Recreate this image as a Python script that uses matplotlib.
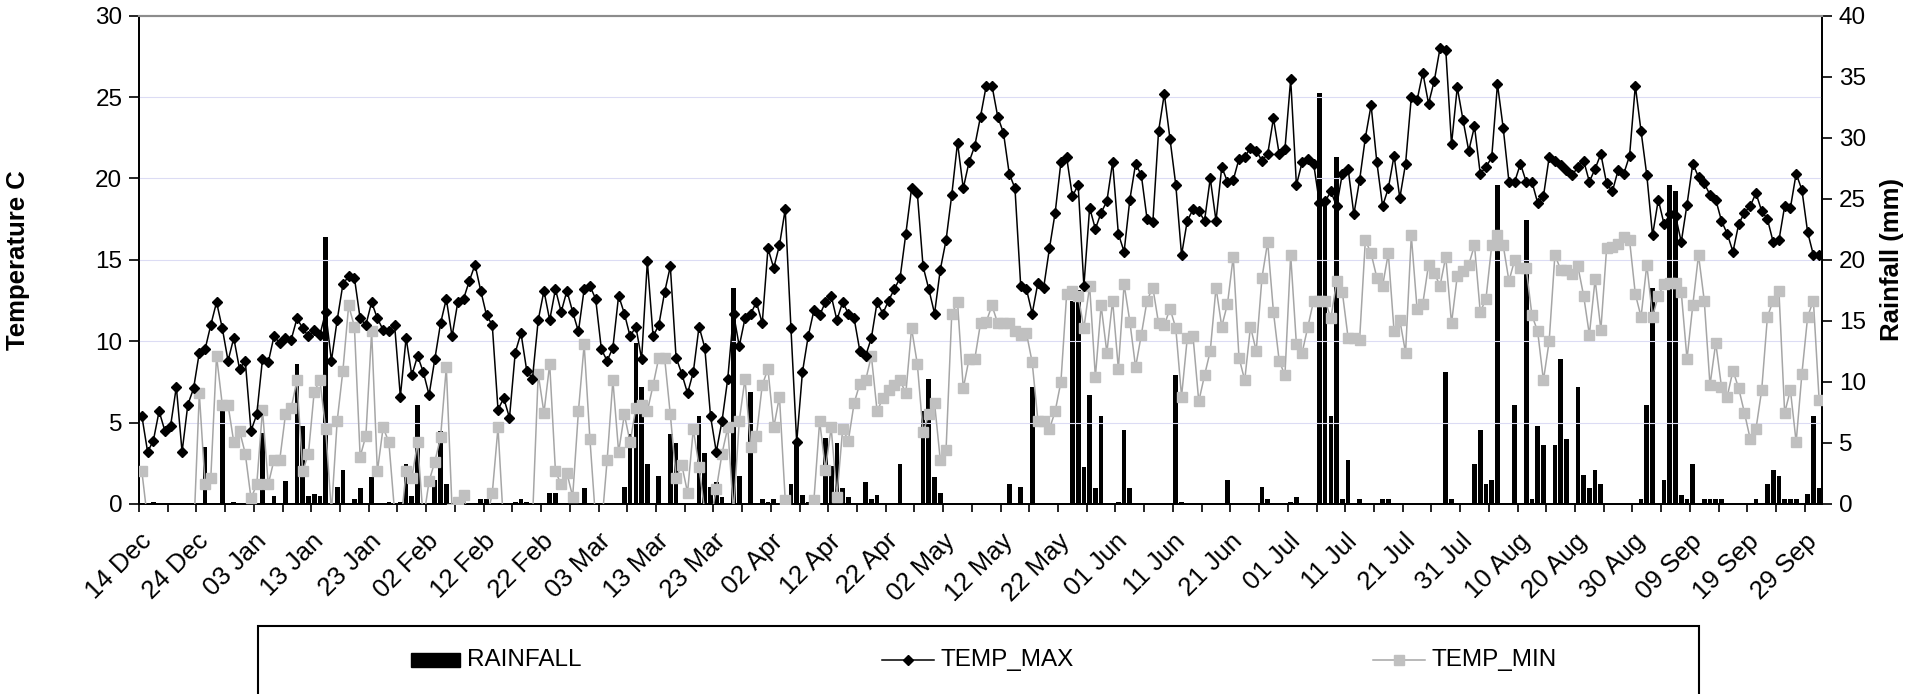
import numpy as np
import matplotlib
matplotlib.use("Agg")
import matplotlib.pyplot as plt
import matplotlib.transforms as mtransforms
import pandas as pd
from matplotlib.patches import Rectangle
from matplotlib.lines import Line2D

plt.rcParams['font.family'] = ['Liberation Sans', 'DejaVu Sans']

start_date = "2003-12-14"

temp_max = [
    5.4, 3.2, 3.9, 5.7, 4.5, 4.8, 7.2, 3.2, 6.1, 7.1,
    9.3, 9.5, 11.0, 12.4, 10.8, 8.8, 10.2, 8.3, 8.8, 4.5,
    5.5, 8.9, 8.7, 10.3, 9.9, 10.2, 10.1, 11.4, 10.8, 10.3,
    10.7, 10.4, 11.8, 8.8, 11.3, 13.5, 14.0, 13.9, 11.4, 11.0,
    12.4, 11.4, 10.7, 10.6, 11.0, 6.6, 10.2, 7.9, 9.1, 8.1,
    6.7, 8.9, 11.1, 12.6, 10.3, 12.4, 12.6, 13.7, 14.7, 13.1,
    11.6, 11.0, 5.8, 6.5, 5.3, 9.3, 10.5, 8.2, 7.7, 11.3,
    13.1, 11.3, 13.2, 11.8, 13.1, 11.8, 10.6, 13.2, 13.4, 12.6,
    9.5, 8.8, 9.6, 12.8, 11.7, 10.3, 10.9, 8.9, 14.9, 10.3,
    11.0, 13.0, 14.6, 9.0, 8.0, 6.8, 8.1, 10.9, 9.6, 5.4,
    3.2, 5.1, 7.7, 11.7, 9.7, 11.4, 11.7, 12.4, 11.1, 15.7,
    14.5, 15.9, 18.1, 10.8, 3.8, 8.1, 10.3, 11.9, 11.6, 12.4,
    12.8, 11.3, 12.4, 11.7, 11.4, 9.4, 9.1, 10.2, 12.4, 11.7,
    12.5, 13.2, 13.9, 16.6, 19.4, 19.1, 14.6, 13.2, 11.7, 14.4,
    16.2, 19.0, 22.2, 19.4, 21.0, 22.0, 23.8, 25.7, 25.7, 23.8,
    22.8, 20.3, 19.4, 13.4, 13.2, 11.7, 13.6, 13.3, 15.7, 17.9,
    21.0, 21.3, 18.9, 19.6, 13.4, 18.2, 16.9, 17.9, 18.6, 21.0,
    16.6, 15.5, 18.7, 20.9, 20.2, 17.5, 17.3, 22.9, 25.2, 22.4,
    19.6, 15.3, 17.4, 18.1, 18.0, 17.4, 20.0, 17.4, 20.7, 19.8,
    19.9, 21.2, 21.3, 21.9, 21.7, 21.1, 21.5, 23.7, 21.5, 21.8,
    26.1, 19.6, 21.0, 21.2, 20.9, 18.5, 18.6, 19.2, 18.3, 20.3,
    20.6, 17.8, 19.9, 22.5, 24.5, 21.0, 18.3, 19.4, 21.4, 18.8,
    20.9, 25.0, 24.8, 26.5, 24.6, 26.0, 28.0, 27.9, 22.1, 25.6,
    23.6, 21.7, 23.2, 20.3, 20.7, 21.3, 25.8, 23.1, 19.8, 19.8,
    20.9, 19.8, 19.8, 18.5, 18.9, 21.3, 21.1, 20.8, 20.5, 20.2,
    20.7, 21.1, 19.8, 20.6, 21.5, 19.7, 19.2, 20.5, 20.3, 21.4,
    25.7, 22.9, 20.2, 16.5, 18.7, 17.2, 17.8, 17.7, 16.1, 18.4,
    20.9, 20.1, 19.7, 19.0, 18.7, 17.4, 16.6, 15.5, 17.2, 17.9,
    18.3, 19.1, 18.0, 17.5, 16.1, 16.2, 18.3, 18.2, 20.3, 19.3,
    16.7, 15.3, 15.3,
]

temp_min = [
    2.0, -1.0, -3.0, -2.0, -3.5, -3.0, -2.0, -3.0, -4.0, -2.0,
    6.8, 1.2, 1.6, 9.1, 6.1, 6.1, 3.8, 4.5, 3.1, 0.35,
    1.2, 5.8, 1.2, 2.7, 2.7, 5.5, 5.9, 7.6, 2.0, 3.1,
    6.9, 7.6, 4.6, -0.5, 5.1, 8.2, 12.2, 10.9, 2.9, 4.2,
    10.6, 2.0, 4.7, 3.8, -0.5, -1.5, 2.0, 1.6, 3.8, -1.0,
    1.4, 2.6, 4.1, 8.4, -0.3, 0.15, 0.55, -1.0, -2.0, -1.5,
    -1.0, 0.65, 4.7, -1.5, -2.0, -1.0, -2.0, -1.0, -1.0, 8.0,
    5.6, 8.6, 2.0, 1.2, 1.9, 0.45, 5.7, 9.8, 4.0, -1.0,
    -1.5, 2.7, 7.6, 3.2, 5.5, 3.8, 5.9, 6.1, 5.7, 7.3,
    9.0, 9.0, 5.5, 1.6, 2.4, 0.7, 4.6, 2.3, -0.5, -1.0,
    0.9, 3.1, 4.7, -0.5, 5.1, 7.7, 3.5, 4.2, 7.3, 8.3,
    4.7, 6.6, 0.25, -1.5, -3.0, -2.0, -0.5, 0.25, 5.1, 2.1,
    4.7, 0.45, 4.6, 3.9, 6.2, 7.4, 7.6, 9.1, 5.7, 6.5,
    7.0, 7.3, 7.6, 6.8, 10.8, 8.6, 4.4, 5.5, 6.2, 2.7,
    3.3, 11.7, 12.4, 7.1, 8.9, 8.9, 11.1, 11.2, 12.2, 11.1,
    11.1, 11.1, 10.6, 10.4, 10.5, 8.7, 5.1, 5.1, 4.6, 5.7,
    7.5, 12.9, 13.1, 12.8, 10.8, 13.4, 7.8, 12.2, 9.3, 12.5,
    8.3, 13.5, 11.2, 8.4, 10.4, 12.5, 13.3, 11.1, 11.0, 12.0,
    10.8, 6.6, 10.2, 10.3, 6.3, 7.9, 9.4, 13.3, 10.9, 12.3,
    15.2, 9.0, 7.6, 10.9, 9.4, 13.9, 16.1, 11.8, 8.8, 7.9,
    15.3, 9.8, 9.3, 10.9, 12.5, 12.5, 12.5, 11.4, 13.7, 13.0,
    10.2, 10.2, 10.1, 16.2, 15.4, 13.9, 13.4, 15.4, 10.6, 11.3,
    9.3, 16.5, 12.0, 12.3, 14.7, 14.2, 13.4, 15.2, 11.1, 14.0,
    14.3, 14.7, 15.9, 11.8, 12.6, 15.9, 16.5, 15.9, 13.7, 15.0,
    14.5, 14.5, 11.6, 10.6, 7.6, 10.0, 15.3, 14.4, 14.4, 14.1,
    14.6, 12.8, 10.4, 13.8, 10.7, 15.7, 15.8, 16.0, 16.4, 16.2,
    12.9, 11.5, 14.7, 11.5, 12.8, 13.5, 13.6, 13.6, 13.0, 8.9,
    12.2, 15.3, 12.5, 7.3, 9.9, 7.2, 6.6, 8.2, 7.1, 5.6,
    4.0, 4.6, 7.0, 11.5, 12.5, 13.1, 5.6, 7.0, 3.8, 8.0,
    11.5, 12.5, 6.4,
]

# rainfall: day index (from start_date) and amount in mm; all other days 0
rain_day = [
    2, 5, 6, 7, 8, 9, 11, 14, 16, 21, 23, 25, 27, 28, 29, 30, 31, 32, 34, 35,
    37, 38, 40, 43, 45, 46, 47, 48, 51, 52, 53, 59, 60, 65, 66, 67, 71, 72, 77,
    84, 85, 86, 87, 88, 90, 92, 93, 97, 98, 99, 100, 101, 103, 104, 106, 108, 109,
    110, 113, 114, 115, 116, 119, 120, 121, 122, 123, 126, 127, 128, 132, 136, 137,
    138, 139, 151, 153, 155, 162, 163, 164, 165, 166, 167, 170, 171, 172, 180, 181,
    189, 195, 196, 200, 201, 205, 206, 207, 208, 209, 210, 212, 216, 217, 227, 228,
    232, 233, 234, 235, 236, 239, 241, 242, 243, 244, 246, 247, 248, 250, 251, 252,
    253, 254, 261, 262, 263, 265, 266, 267, 268, 269, 270, 272, 273, 274, 275, 281,
    283, 284, 285, 286, 287, 288, 290, 291, 292,
]
rain_mm = [
    0.2, 0.1, 0.1, 0.1, 0.1, 0.1, 4.7, 7.6, 0.2, 5.8, 0.65, 1.9, 11.5, 6.4, 0.65, 0.8, 0.65, 21.9, 1.4, 2.8,
    0.45, 1.3, 2.2, 0.2, 0.2, 3.3, 0.65, 8.1, 2.0, 6.0, 1.6, 0.45, 0.45, 0.2, 0.45, 0.2, 0.9, 0.9, 1.3,
    1.4, 5.7, 13.2, 9.6, 3.3, 2.3, 5.7, 5.0, 7.2, 4.2, 1.4, 1.8, 0.6, 17.7, 2.3, 9.2, 0.45, 0.2,
    0.4, 1.6, 5.2, 0.7, 0.2, 5.4, 3.1, 5.0, 1.3, 0.6, 1.8, 0.45, 0.75, 3.3, 7.6, 10.2,
    2.2, 0.9, 1.6, 1.4, 9.6, 16.6, 17.5, 3.0, 8.9, 1.3, 7.2, 0.2, 6.1, 1.3, 10.6, 0.2,
    2.0, 1.4, 0.45, 0.2, 0.6, 33.7, 25.0, 7.2, 28.4, 0.45, 3.6, 0.45, 0.45, 0.45, 10.8, 0.45,
    3.3, 6.1, 1.6, 2.0, 26.1, 8.1, 23.3, 0.45, 6.4, 4.8, 4.8, 11.9, 5.3, 9.6, 2.4, 1.3,
    2.8, 1.6, 0.45, 8.1, 17.7, 2.0, 26.1, 25.6, 0.75, 0.45, 3.3, 0.45, 0.45, 0.45, 0.45, 0.45,
    1.6, 2.8, 2.3, 0.45, 0.45, 0.45, 0.8, 7.2, 1.3,
]

series_names = ["RAINFALL", "TEMP_MAX", "TEMP_MIN"]

n = len(temp_max)
rainfall = np.zeros(n)
rainfall[rain_day] = rain_mm
dates = pd.date_range(start_date, periods=n, freq="D")
x = np.arange(n) + 0.5

W, H = 1926, 694
fig = plt.figure(figsize=(W / 100, H / 100), dpi=100)
L, R, T, B = 139, 1822, 15.7, 504
ax = fig.add_axes([L / W, 1 - B / H, (R - L) / W, (B - T) / H])
ax2 = ax.twinx()

MAX_KW = dict(color="black", lw=1.1, marker="D", ms=5.5, mfc="black", mec="black")
MIN_KW = dict(color="#a6a6a6", lw=1.1, marker="s", ms=6.5, mfc="#c0c0c0", mec="#c0c0c0")

# rainfall bars (secondary axis, drawn behind)
ax2.bar(x, rainfall, width=0.82, color="black", edgecolor="none", zorder=2)
ax2.set_ylim(0, 40)
ax2.set_yticks(np.arange(0, 41, 5))

# temperature lines (primary axis, drawn in front)
ax.set_zorder(ax2.get_zorder() + 1)
ax.patch.set_visible(False)
ax.plot(x, temp_min, zorder=3, **MIN_KW)
ax.plot(x, temp_max, zorder=4, **MAX_KW)
ax.set_ylim(0, 30)
ax.set_yticks(np.arange(0, 31, 5))
ax.set_xlim(0, n)

for yv in range(5, 30, 5):
    ax.axhline(yv, color="#dcdcf4", lw=0.8, zorder=0)

# x ticks every 5 days, labels every 10 days
tick_pos = np.arange(0, n, 5)
tick_lab = [dates[t].strftime("%d %b") if t % 10 == 0 else "" for t in tick_pos]
ax.set_xticks(tick_pos)
ax.set_xticklabels(tick_lab, rotation=45, ha="right", va="top",
                   rotation_mode="anchor", fontsize=18.5)
shift = mtransforms.ScaledTranslation(-6 / 100, 0, fig.dpi_scale_trans)
for lab in ax.get_xticklabels():
    lab.set_transform(lab.get_transform() + shift)
ax.tick_params(axis="x", direction="out", length=6, width=1.2, pad=12)
ax.tick_params(axis="y", direction="out", length=7, width=1.2, labelsize=17.5, pad=5)
ax2.tick_params(axis="y", direction="out", length=7, width=1.2, labelsize=17.5, pad=5)

for a in (ax, ax2):
    a.spines["top"].set_color("#8c8c8c")
    a.spines["top"].set_linewidth(1.5)
    for s in ("left", "right", "bottom"):
        a.spines[s].set_linewidth(1.3)
        a.spines[s].set_color("black")

ax.set_ylabel("Temperature C", fontsize=18.5, fontweight="bold")
ax.yaxis.set_label_coords((30 - L) / (R - L), 0.5)
ax2.set_ylabel("Rainfall (mm)", fontsize=18.5, fontweight="bold", rotation=90)
ax2.yaxis.set_label_coords((1880 - L) / (R - L), 0.5)

# legend box and entries (placed at the reference positions)
def fx(px):
    return px / W

def fy(py):
    return 1 - py / H

fig.add_artist(Rectangle((fx(258), -0.05), fx(1699) - fx(258), fy(626) + 0.05,
                         transform=fig.transFigure, fill=False,
                         edgecolor="black", lw=1.5))
ly = 660
fig.add_artist(Rectangle((fx(411), fy(667)), fx(460) - fx(411), fy(653) - fy(667),
                         transform=fig.transFigure, facecolor="black",
                         edgecolor="black"))
fig.text(fx(467), fy(ly), series_names[0], fontsize=17.5, va="center", ha="left")
for (x0, x1, kw, name) in [(882, 934, MAX_KW, series_names[1]),
                           (1373, 1425, MIN_KW, series_names[2])]:
    fig.add_artist(Line2D([fx(x0), fx(x1)], [fy(ly), fy(ly)],
                          transform=fig.transFigure, color=kw["color"], lw=kw["lw"]))
    fig.add_artist(Line2D([fx((x0 + x1) / 2)], [fy(ly)], transform=fig.transFigure,
                          linestyle="none", marker=kw["marker"], ms=kw["ms"],
                          mfc=kw["mfc"], mec=kw["mec"]))
    fig.text(fx(x1 + 6), fy(ly), name, fontsize=17.5, va="center", ha="left")

fig.savefig("out.png", dpi=100)
